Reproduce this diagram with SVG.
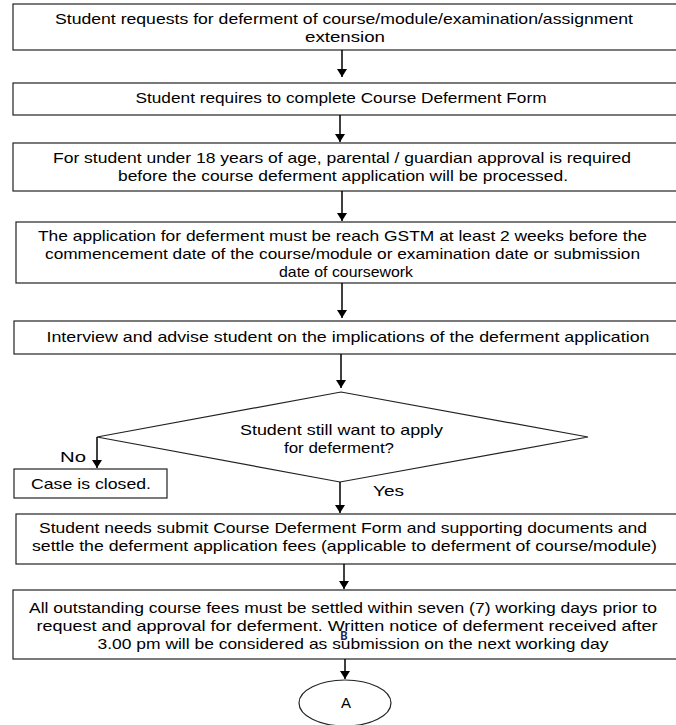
<svg xmlns="http://www.w3.org/2000/svg" width="676" height="725" viewBox="0 0 676 725">
<defs>
<marker id="ah" markerWidth="8" markerHeight="10" refX="8" refY="5" orient="auto" markerUnits="userSpaceOnUse" viewBox="0 0 8 10">
<path d="M0,0 L8,5 L0,10 Z" fill="#000"/>
</marker>
</defs>
<style>
.box{fill:#fff;stroke:#222;stroke-width:1.2}
.t{font-family:"Liberation Sans",Arial,sans-serif;font-size:15px;fill:#000;text-anchor:middle}
.tl{font-family:"Liberation Sans",Arial,sans-serif;font-size:15px;fill:#000}
.c{stroke:#000;stroke-width:1.5;fill:none;marker-end:url(#ah)}
</style>
<rect width="676" height="725" fill="#fff"/>
<g id="n1"><rect class="box" x="13" y="4" width="670" height="46"/>
<text class="t" x="344" y="24" textLength="578" lengthAdjust="spacingAndGlyphs">Student requests for deferment of course/module/examination/assignment</text>
<text class="t" x="345" y="42" textLength="80" lengthAdjust="spacingAndGlyphs">extension</text></g>
<g id="n2"><rect class="box" x="13" y="83" width="670" height="32"/>
<text class="t" x="341" y="103" textLength="411" lengthAdjust="spacingAndGlyphs">Student requires to complete Course Deferment Form</text></g>
<g id="n3"><rect class="box" x="13" y="143" width="670" height="48"/>
<text class="t" x="342" y="163" textLength="578" lengthAdjust="spacingAndGlyphs">For student under 18 years of age, parental / guardian approval is required</text>
<text class="t" x="343" y="181" textLength="450" lengthAdjust="spacingAndGlyphs">before the course deferment application will be processed.</text></g>
<g id="n4"><rect class="box" x="16" y="222" width="667" height="61"/>
<text class="t" x="342.5" y="241" textLength="609" lengthAdjust="spacingAndGlyphs">The application for deferment must be reach GSTM at least 2 weeks before the</text>
<text class="t" x="342.5" y="259" textLength="595" lengthAdjust="spacingAndGlyphs">commencement date of the course/module or examination date or submission</text>
<text class="t" x="346" y="277" textLength="134" lengthAdjust="spacingAndGlyphs">date of coursework</text></g>
<g id="n5"><rect class="box" x="14" y="321" width="669" height="33"/>
<text class="t" x="348" y="342" textLength="603" lengthAdjust="spacingAndGlyphs">Interview and advise student on the implications of the deferment application</text></g>
<g id="n6"><polygon class="box" points="341,392 588,437 340,482 97,437"/>
<text class="t" x="341.5" y="435" textLength="203" lengthAdjust="spacingAndGlyphs">Student still want to apply</text>
<text class="t" x="339" y="453" textLength="110" lengthAdjust="spacingAndGlyphs">for deferment?</text></g>
<g id="n7"><rect class="box" x="14" y="469" width="153" height="29"/>
<text class="t" x="91" y="489" textLength="120" lengthAdjust="spacingAndGlyphs">Case is closed.</text></g>
<g id="n8"><rect class="box" x="16" y="514" width="667" height="50"/>
<text class="t" x="343" y="533" textLength="608" lengthAdjust="spacingAndGlyphs">Student needs submit Course Deferment Form and supporting documents and</text>
<text class="t" x="344.5" y="551" textLength="625" lengthAdjust="spacingAndGlyphs">settle the deferment application fees (applicable to deferment of course/module)</text></g>
<g id="n9"><rect class="box" x="13" y="590" width="670" height="69"/>
<text class="t" x="343" y="613" textLength="628" lengthAdjust="spacingAndGlyphs">All outstanding course fees must be settled within seven (7) working days prior to</text>
<text class="t" x="347" y="631" textLength="621" lengthAdjust="spacingAndGlyphs">request and approval for deferment.  Written notice of deferment received after</text>
<text class="t" x="353" y="649" textLength="511" lengthAdjust="spacingAndGlyphs">3.00 pm will be considered as submission on the next working day</text>
<text x="344" y="640" font-family="Carlito,'Liberation Sans',sans-serif" font-size="13px" font-weight="bold" fill="#1f2a5c" text-anchor="middle">B</text></g>
<g id="n10"><ellipse class="box" cx="345" cy="703" rx="46" ry="23"/>
<text class="t" x="346" y="708">A</text></g>
<g id="connectors">
<line class="c" x1="342" y1="50" x2="342" y2="77"/>
<line class="c" x1="340" y1="115" x2="340" y2="142"/>
<line class="c" x1="342" y1="191" x2="342" y2="221"/>
<line class="c" x1="342" y1="283" x2="342" y2="318"/>
<line class="c" x1="341" y1="354" x2="341" y2="388"/>
<line class="c" x1="97" y1="437" x2="97" y2="468"/>
<line class="c" x1="340" y1="482" x2="340" y2="513"/>
<line class="c" x1="344" y1="564" x2="344" y2="589"/>
<line class="c" x1="345" y1="659" x2="345" y2="679"/>
<text class="tl" x="60" y="462" textLength="26" lengthAdjust="spacingAndGlyphs">No</text>
<text class="tl" x="373" y="496" textLength="31" lengthAdjust="spacingAndGlyphs">Yes</text>
</g>
</svg>
